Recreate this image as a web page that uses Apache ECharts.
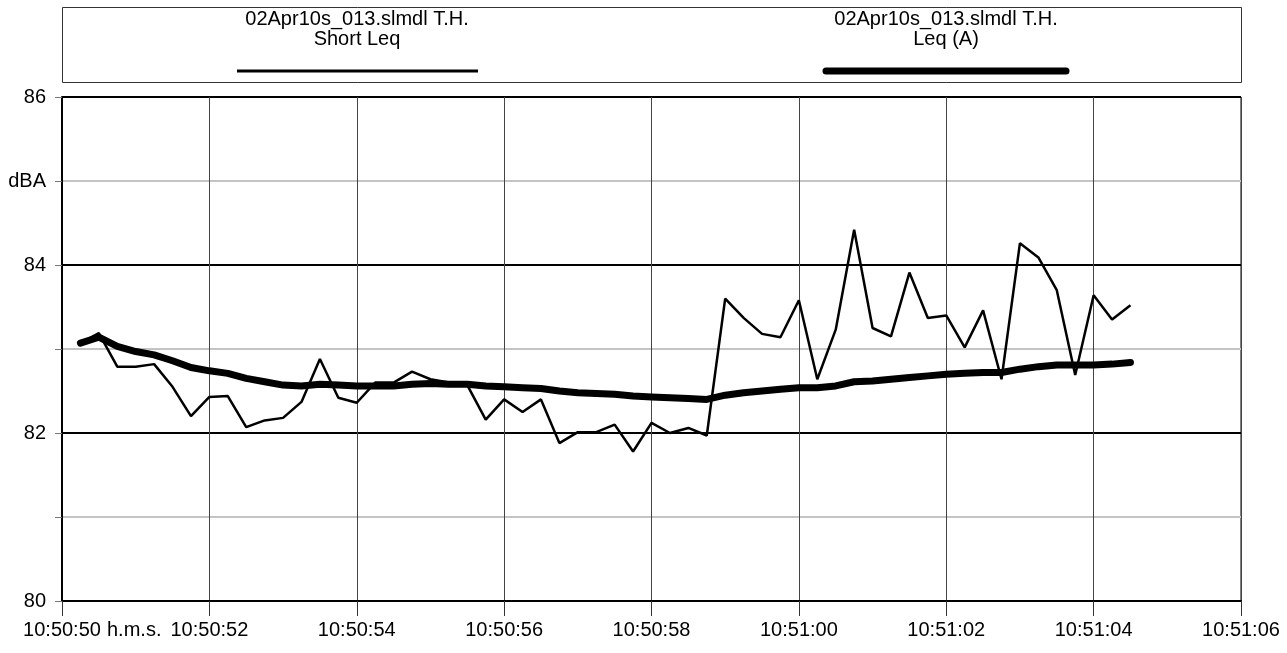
<!DOCTYPE html>
<html>
<head>
<meta charset="utf-8">
<script src="https://cdn.jsdelivr.net/npm/echarts@6/dist/echarts.min.js"></script>
<style>
  html, body { margin: 0; padding: 0; background: #fff; }
  #chart { width: 1287px; height: 653px; }
</style>
</head>
<body>
<div id="chart"></div>
<script>
// seconds after 10:50:50
const times = [
  0.25, 0.5, 0.75, 1, 1.25, 1.5, 1.75, 2, 2.25, 2.5, 2.75, 3, 3.25, 3.5, 3.75, 4,
  4.25, 4.5, 4.75, 5, 5.25, 5.5, 5.75, 6, 6.25, 6.5, 6.75, 7, 7.25, 7.5, 7.75, 8,
  8.25, 8.5, 8.75, 9, 9.25, 9.5, 9.75, 10, 10.25, 10.5, 10.75, 11, 11.25, 11.5, 11.75, 12,
  12.25, 12.5, 12.75, 13, 13.25, 13.5, 13.75, 14, 14.25, 14.5
];
const shortLeq = [
  83.07, 83.19, 82.79, 82.79, 82.82, 82.55, 82.20, 82.43, 82.44, 82.07, 82.15, 82.18, 82.37, 82.88, 82.42, 82.36,
  82.60, 82.60, 82.73, 82.64, 82.60, 82.57, 82.16, 82.40, 82.25, 82.40, 81.88, 82.01, 82.01, 82.10, 81.78, 82.12,
  82.00, 82.06, 81.97, 83.60, 83.37, 83.18, 83.14, 83.58, 82.64, 83.23, 84.42, 83.25, 83.15, 83.91, 83.37, 83.40,
  83.02, 83.46, 82.64, 84.26, 84.09, 83.70, 82.69, 83.64, 83.35, 83.52
];
const leqA = [
  83.07, 83.14, 83.03, 82.97, 82.93, 82.86, 82.78, 82.74, 82.71, 82.65, 82.61, 82.57, 82.56, 82.58, 82.57, 82.56,
  82.56, 82.56, 82.58, 82.59, 82.58, 82.58, 82.56, 82.55, 82.54, 82.53, 82.50, 82.48, 82.47, 82.46, 82.44, 82.43,
  82.42, 82.41, 82.40, 82.45, 82.48, 82.50, 82.52, 82.54, 82.54, 82.56, 82.61, 82.62, 82.64, 82.66, 82.68, 82.70,
  82.71, 82.72, 82.72, 82.76, 82.79, 82.81, 82.81, 82.81, 82.82, 82.84
];
const yLabels = { 80: "80", 82: "82", 84: "84", 85: "dBA", 86: "86" };
const seriesNames = ["Short Leq", "Leq (A)"];
const fileName = "02Apr10s_013.slmdl T.H.";

function pairs(vals) {
  return times.map((t, i) => [t, vals[i]]);
}
function timeLabel(v) {
  const total = 10 * 3600 + 50 * 60 + 50 + v;
  const h = Math.floor(total / 3600);
  const m = Math.floor((total % 3600) / 60);
  const s = Math.round(total % 60);
  const p = (n) => (n < 10 ? "0" + n : "" + n);
  return h + ":" + p(m) + ":" + p(s);
}

const font = "Liberation Sans, Arial, sans-serif";
const chart = echarts.init(document.getElementById("chart"));
chart.setOption({
  animation: false,
  backgroundColor: "#fff",
  grid: {
    left: 62, right: 46, top: 97, bottom: 52,
    show: true, borderColor: "#000", borderWidth: 1,
  },
  xAxis: {
    type: "value",
    min: 0, max: 16, interval: 2,
    axisLine: { lineStyle: { color: "#000", width: 2 } },
    axisTick: { length: 15, lineStyle: { color: "#333" } },
    axisLabel: {
      color: "#000", fontSize: 20, fontFamily: font, margin: 19,
      formatter: timeLabel,
    },
    splitLine: { show: true, lineStyle: { color: "#444", width: 1 } },
  },
  yAxis: {
    type: "value",
    min: 80, max: 86, interval: 1,
    axisLine: { show: true, lineStyle: { color: "#000", width: 2 } },
    axisTick: { show: true, length: 7, lineStyle: { color: "#777" } },
    axisLabel: {
      color: "#000", fontSize: 20, fontFamily: font, margin: 16,
      formatter: (v) => yLabels[v] || "",
    },
    splitLine: { show: true, lineStyle: { color: ["#000", "#c4c4c4"], width: 2 } },
  },
  graphic: [
    { type: "rect", shape: { x: 62.5, y: 7.5, width: 1179, height: 75 },
      style: { fill: "#fff", stroke: "#333", lineWidth: 1 } },
    { type: "text", x: 357, y: 19, style: { text: fileName, font: "20px " + font, fill: "#000", align: "center", verticalAlign: "middle" } },
    { type: "text", x: 357, y: 39, style: { text: seriesNames[0], font: "20px " + font, fill: "#000", align: "center", verticalAlign: "middle" } },
    { type: "line", shape: { x1: 237, y1: 71, x2: 478, y2: 71 }, style: { stroke: "#000", lineWidth: 3 } },
    { type: "text", x: 946, y: 19, style: { text: fileName, font: "20px " + font, fill: "#000", align: "center", verticalAlign: "middle" } },
    { type: "text", x: 946, y: 39, style: { text: seriesNames[1], font: "20px " + font, fill: "#000", align: "center", verticalAlign: "middle" } },
    { type: "line", shape: { x1: 826, y1: 71, x2: 1066, y2: 71 }, style: { stroke: "#000", lineWidth: 7, lineCap: "round" } },
    { type: "text", x: 107, y: 630, style: { text: "h.m.s.", font: "20px " + font, fill: "#000", align: "left", verticalAlign: "middle" } },
  ],
  series: [
    {
      name: seriesNames[0], type: "line", data: pairs(shortLeq),
      symbol: "none", lineStyle: { color: "#000", width: 2.5 },
    },
    {
      name: seriesNames[1], type: "line", data: pairs(leqA),
      symbol: "none", lineStyle: { color: "#000", width: 7, cap: "round", join: "round" },
    },
  ],
});
</script>
</body>
</html>
